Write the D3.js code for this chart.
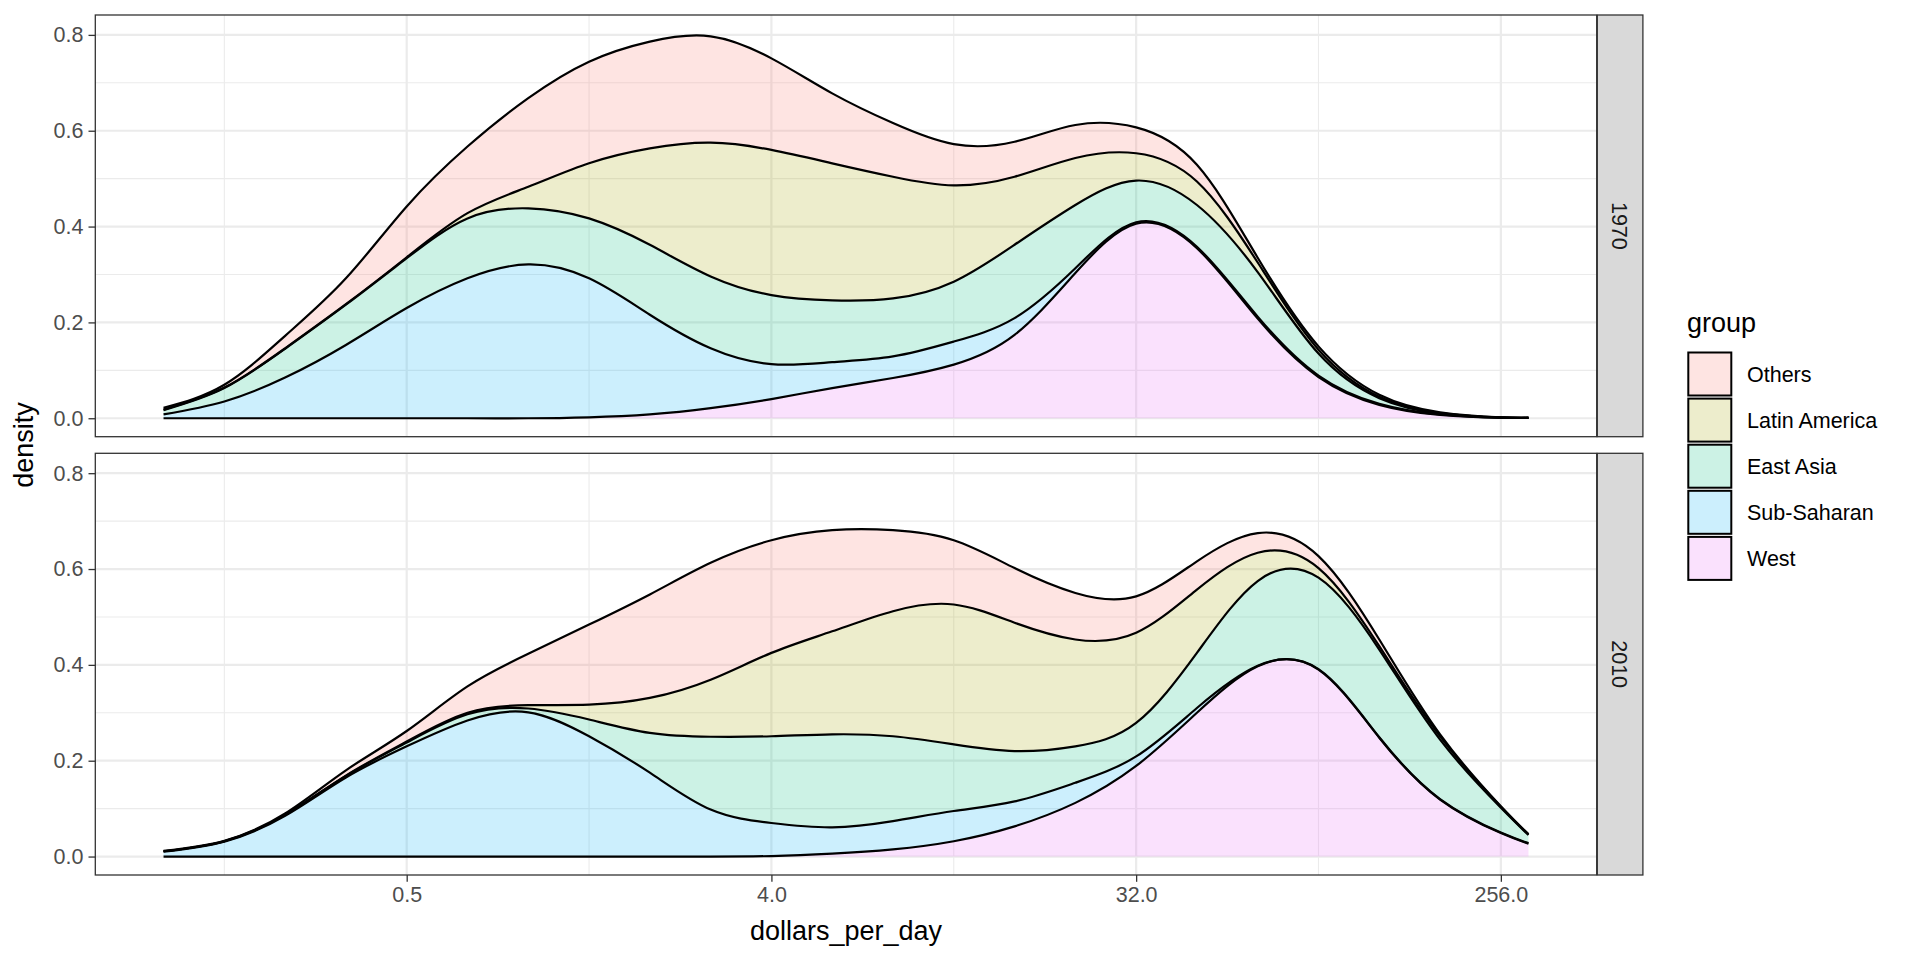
<!DOCTYPE html>
<html><head><meta charset="utf-8">
<script src="https://cdn.jsdelivr.net/npm/d3@7"></script>
<style>
body{margin:0;background:#fff;}
text{font-family:"Liberation Sans",Arial,Helvetica,sans-serif;}
</style></head><body>
<svg id="chart" width="1920" height="960"></svg>
<script>
// ---------------- data ----------------
const groups = ["Others","Latin America","East Asia","Sub-Saharan","West"];
const groupColors = ["#F8766D","#A3A500","#00BF7D","#00B0F6","#E76BF3"];
const years = ["1970","2010"];
const xTickValues = [0.5, 4, 32, 256];
const yTickValues = [0, 0.2, 0.4, 0.6, 0.8];
// sample points, log2(dollars_per_day)
const log2Dollars = [-3,-2.5,-2,-1.5,-1,-0.5,0,0.5,1,1.5,2,2.5,3,3.5,4,4.5,5,5.5,6,6.5,7,7.5,8,8.227];

// 1970 densities per group
const west1970   = [0,0,0,0,0,0,0,0.002,0.008,0.021,0.040,0.063,0.084,0.112,0.174,0.303,0.406,0.355,0.208,0.086,0.028,0.007,0.001,0.0006];
const subSah1970 = [0.008,0.035,0.085,0.153,0.230,0.292,0.321,0.290,0.208,0.125,0.073,0.054,0.045,0.048,0.035,0.010,0.003,0.003,0.004,0.003,0.002,0.001,0.0002,0.0001];
const eastAs1970 = [0.009,0.028,0.060,0.084,0.104,0.125,0.117,0.125,0.146,0.150,0.144,0.129,0.121,0.125,0.153,0.132,0.087,0.087,0.093,0.046,0.012,0.002,0.0003,0.0002];
const latAm1970  = [0.001,0.001,0.001,0.001,0.002,0.011,0.045,0.115,0.201,0.279,0.303,0.286,0.254,0.201,0.142,0.098,0.057,0.049,0.020,0.008,0.003,0.001,0.0002,0.0001];
const others1970 = [0.004,0.006,0.026,0.054,0.106,0.139,0.185,0.212,0.223,0.222,0.191,0.146,0.112,0.086,0.073,0.069,0.054,0.035,0.010,0.007,0.004,0.0015,0.0003,0.0002];

// 2010 densities per group
const west2010   = [0,0,0,0,0,0,0,0,0,0,0.001,0.006,0.015,0.032,0.063,0.112,0.189,0.300,0.397,0.390,0.248,0.119,0.049,0.027];
const subSah2010 = [0.010,0.031,0.085,0.165,0.230,0.284,0.301,0.251,0.175,0.098,0.069,0.055,0.059,0.063,0.052,0.042,0.020,0.010,0.001,0.001,0.001,0.001,0.001,0.001];
const eastAs2010 = [0.001,0.001,0.002,0.003,0.008,0.013,0.008,0.035,0.083,0.152,0.181,0.194,0.177,0.139,0.105,0.076,0.070,0.115,0.177,0.191,0.183,0.124,0.052,0.017];
const latAm2010  = [0,0,0,0.001,0.002,0.003,0.007,0.031,0.073,0.119,0.174,0.215,0.261,0.292,0.268,0.223,0.188,0.132,0.059,0.020,0.007,0.007,0.002,0.001];
const others2010 = [0.001,0.001,0.003,0.011,0.022,0.055,0.107,0.167,0.216,0.244,0.235,0.211,0.169,0.134,0.114,0.097,0.076,0.059,0.041,0.025,0.014,0.004,0.001,0.001];

const seriesByYear = {
  "1970": {"Others":others1970,"Latin America":latAm1970,"East Asia":eastAs1970,"Sub-Saharan":subSah1970,"West":west1970},
  "2010": {"Others":others2010,"Latin America":latAm2010,"East Asia":eastAs2010,"Sub-Saharan":subSah2010,"West":west2010}
};

// ---------------- layout ----------------
const svg = d3.select("#chart");
const panelLeft = 95.3, panelRight = 1596.7;
const panels = [{top:15, bottom:436.7},{top:453.3, bottom:875}];
const stripW = 45.6;
const fontMain = 21.5, fontTitle = 27;

const lMin = d3.min(log2Dollars), lMax = d3.max(log2Dollars);
const lPad = 0.05*(lMax-lMin);
const x = d3.scaleLog().base(2)
  .domain([Math.pow(2,lMin-lPad), Math.pow(2,lMax+lPad)])
  .range([panelLeft, panelRight]);

const colorOf = d3.scaleOrdinal().domain(groups).range(groupColors);
const stackKeys = groups.slice().reverse(); // West at bottom, Others on top

const xMinor = [Math.pow(2,-2.5), Math.pow(2,0.5), Math.pow(2,3.5), Math.pow(2,6.5)];
const yMinor = [0.1,0.3,0.5,0.7];
const curve = d3.curveNatural;

panels.forEach((p, pi) => {
  const yr = years[pi];
  const y = d3.scaleLinear().domain([-0.0385, 0.8415]).range([p.bottom, p.top]);
  const g = svg.append("g");

  g.append("rect").attr("x",panelLeft).attr("y",p.top)
    .attr("width",panelRight-panelLeft).attr("height",p.bottom-p.top).attr("fill","#fff");

  // grid
  g.selectAll(".ymin").data(yMinor).enter().append("line")
    .attr("x1",panelLeft).attr("x2",panelRight).attr("y1",d=>y(d)).attr("y2",d=>y(d))
    .attr("stroke","#EBEBEB").attr("stroke-width",1.1);
  g.selectAll(".xmin").data(xMinor).enter().append("line")
    .attr("y1",p.top).attr("y2",p.bottom).attr("x1",d=>x(d)).attr("x2",d=>x(d))
    .attr("stroke","#EBEBEB").attr("stroke-width",1.1);
  g.selectAll(".ymaj").data(yTickValues).enter().append("line")
    .attr("x1",panelLeft).attr("x2",panelRight).attr("y1",d=>y(d)).attr("y2",d=>y(d))
    .attr("stroke","#EBEBEB").attr("stroke-width",2.2);
  g.selectAll(".xmaj").data(xTickValues).enter().append("line")
    .attr("y1",p.top).attr("y2",p.bottom).attr("x1",d=>x(d)).attr("x2",d=>x(d))
    .attr("stroke","#EBEBEB").attr("stroke-width",2.2);

  // stacked densities
  const rows = log2Dollars.map((l,i) => {
    const r = {dollars: Math.pow(2,l)};
    groups.forEach(gr => r[gr] = seriesByYear[yr][gr][i]);
    return r;
  });
  const stacked = d3.stack().keys(stackKeys)(rows);
  const area = d3.area().curve(curve)
    .x(d=>x(d.data.dollars)).y0(d=>y(d[0])).y1(d=>y(d[1]));
  const line = d3.line().curve(curve)
    .x(d=>x(d.data.dollars)).y(d=>y(d[1]));

  g.selectAll(".area").data(stacked).enter().append("path")
    .attr("d",area).attr("fill",s=>colorOf(s.key)).attr("fill-opacity",0.2).attr("stroke","none");
  g.selectAll(".outline").data(stacked).enter().append("path")
    .attr("d",line).attr("fill","none").attr("stroke","#000").attr("stroke-width",2.2)
    .attr("stroke-linejoin","round");

  // border
  g.append("rect").attr("x",panelLeft).attr("y",p.top)
    .attr("width",panelRight-panelLeft).attr("height",p.bottom-p.top)
    .attr("fill","none").attr("stroke","#333333").attr("stroke-width",1.3);

  // strip
  g.append("rect").attr("x",panelRight+0.6).attr("y",p.top)
    .attr("width",stripW).attr("height",p.bottom-p.top)
    .attr("fill","#D9D9D9").attr("stroke","#333333").attr("stroke-width",1.3);
  const cx = panelRight+0.6+stripW/2, cy = (p.top+p.bottom)/2;
  g.append("text").attr("transform",`translate(${cx},${cy}) rotate(90)`)
    .attr("text-anchor","middle").attr("dy","0.36em")
    .attr("font-size",fontMain).attr("fill","#1A1A1A").text(yr);

  // y axis
  const ya = g.append("g").attr("transform",`translate(${panelLeft},0)`)
    .call(d3.axisLeft(y).tickValues(yTickValues).tickFormat(d3.format(".1f")).tickSize(6.8).tickPadding(5));
  ya.select(".domain").remove();
  ya.selectAll("line").attr("stroke","#333333").attr("stroke-width",1.3);
  ya.selectAll("text").attr("font-size",fontMain).attr("fill","#4D4D4D")
    .attr("font-family","'Liberation Sans',Arial,sans-serif");

  if (pi === panels.length-1) {
    const xa = g.append("g").attr("transform",`translate(0,${p.bottom})`)
      .call(d3.axisBottom(x).tickValues(xTickValues).tickFormat(d3.format(".1f")).tickSize(6.8).tickPadding(5));
    xa.select(".domain").remove();
    xa.selectAll("line").attr("stroke","#333333").attr("stroke-width",1.3);
    xa.selectAll("text").attr("font-size",fontMain).attr("fill","#4D4D4D")
      .attr("font-family","'Liberation Sans',Arial,sans-serif");
  }
});

// axis titles
svg.append("text").attr("x",(panelLeft+panelRight)/2).attr("y",940)
  .attr("text-anchor","middle").attr("font-size",fontTitle).attr("fill","#000").text("dollars_per_day");
svg.append("text").attr("transform",`translate(33,${(panels[0].top+panels[1].bottom)/2}) rotate(-90)`)
  .attr("text-anchor","middle").attr("font-size",fontTitle).attr("fill","#000").text("density");

// legend
const lg = svg.append("g");
lg.append("text").attr("x",1687).attr("y",332).attr("font-size",fontTitle).attr("fill","#000").text("group");
const keyTop = 352.5, keyPitch = 46.1, keySize = 43;
groups.forEach((gr,i) => {
  const ky = keyTop + i*keyPitch;
  lg.append("rect").attr("x",1688.3).attr("y",ky).attr("width",keySize).attr("height",keySize)
    .attr("fill","#fff").attr("stroke","none");
  lg.append("rect").attr("x",1688.3).attr("y",ky).attr("width",keySize).attr("height",keySize)
    .attr("fill",colorOf(gr)).attr("fill-opacity",0.2).attr("stroke","#000").attr("stroke-width",2);
  lg.append("text").attr("x",1747).attr("y",ky+keySize/2).attr("dy","0.36em")
    .attr("font-size",fontMain).attr("fill","#000").text(gr);
});
</script>
</body></html>
